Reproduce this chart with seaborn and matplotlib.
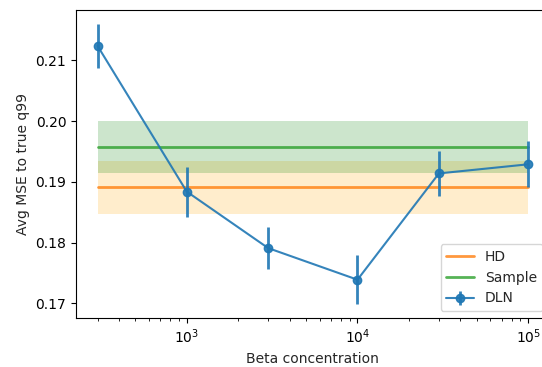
import numpy as np
import pandas as pd
import matplotlib
matplotlib.use("Agg")
import matplotlib.pyplot as plt
import seaborn as sns

beta = [300, 1000, 3000, 10000, 30000, 100000]
dln_mean = [0.2124, 0.1884, 0.1791, 0.1739, 0.1914, 0.1929]
dln_err = [0.0036, 0.0041, 0.0034, 0.0040, 0.0037, 0.0038]

hd_mean = 0.1891
hd_low, hd_high = 0.1848, 0.1934
sample_mean = 0.1957
sample_low, sample_high = 0.1914, 0.2001

sns.set_style("white")

fig = plt.figure(figsize=(5.42, 3.67), dpi=100)
ax = fig.add_axes([76 / 542, 49 / 367, 473.7 / 542, 308 / 367])
for s in ax.spines.values():
    s.set_color("black")
    s.set_linewidth(0.8)

xr = [beta[0], beta[-1]]
hd_df = pd.DataFrame({"x": xr, "y": [hd_mean, hd_mean]})
sm_df = pd.DataFrame({"x": xr, "y": [sample_mean, sample_mean]})

sns.lineplot(data=hd_df, x="x", y="y", color="tab:orange", alpha=0.8, label="HD", ax=ax, linewidth=2)
ax.fill_between(xr, [hd_low] * 2, [hd_high] * 2, color="orange", alpha=0.2, linewidth=0)
sns.lineplot(data=sm_df, x="x", y="y", color="tab:green", alpha=0.8, label="Sample", ax=ax, linewidth=2)
ax.fill_between(xr, [sample_low] * 2, [sample_high] * 2, color="green", alpha=0.2, linewidth=0)

ax.errorbar(beta, dln_mean, yerr=dln_err, color="tab:blue", marker="o", markersize=6,
            linewidth=1.5, elinewidth=2, alpha=0.9, label="DLN")

ax.set_xscale("log")
ax.margins(x=0.05, y=0.05)
ax.set_xlabel("Beta concentration", fontsize=10)
ax.set_ylabel("Avg MSE to true q99", fontsize=10)
ax.set_yticks([0.17, 0.18, 0.19, 0.20, 0.21])
ax.tick_params(axis="both", which="both", direction="out", colors="black", labelsize=10)
ax.tick_params(axis="both", which="major", length=3.5, width=0.8, left=True, bottom=True)
ax.tick_params(axis="x", which="minor", length=2, width=0.6, bottom=True)
ax.legend(loc="lower right", fontsize=10)

fig.savefig("out.png", dpi=100)
